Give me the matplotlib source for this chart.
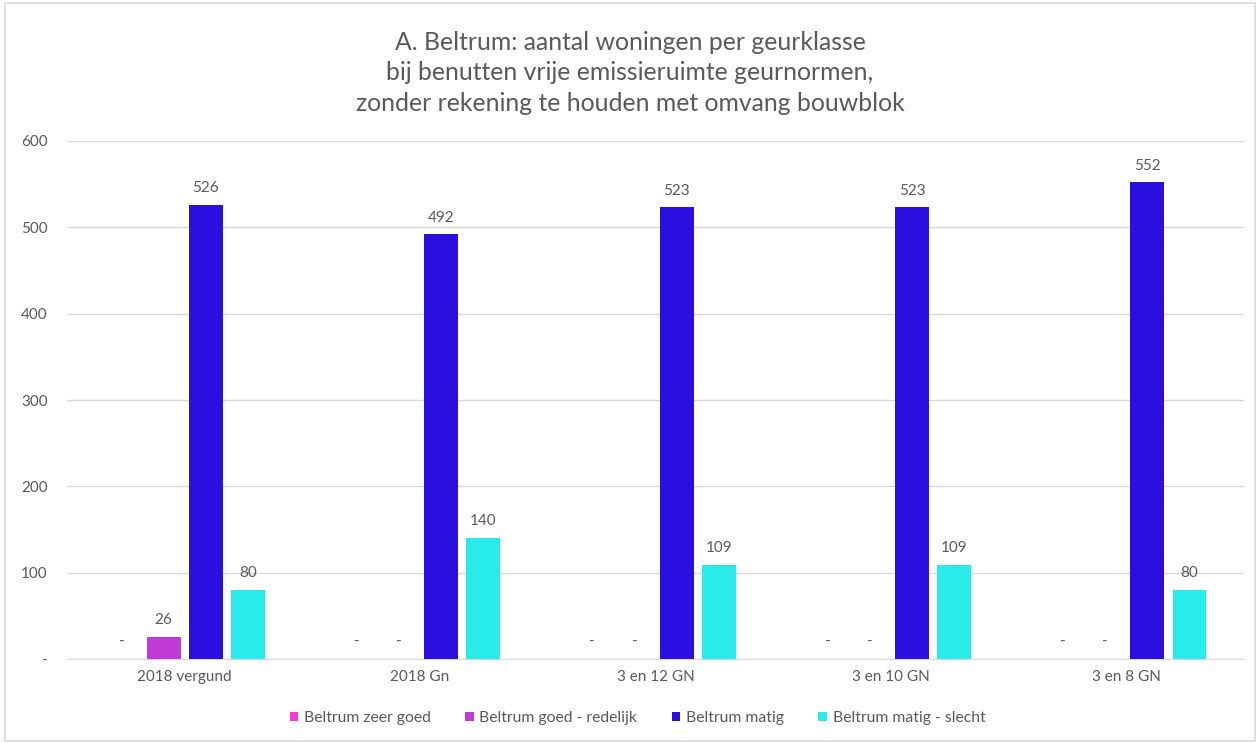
import matplotlib
matplotlib.use("Agg")
import matplotlib.pyplot as plt
import numpy as np
from matplotlib.patches import Rectangle

categories = ["2018 vergund", "2018 Gn", "3 en 12 GN", "3 en 10 GN", "3 en 8 GN"]
series_names = ["Beltrum zeer goed", "Beltrum goed - redelijk", "Beltrum matig", "Beltrum matig - slecht"]
zeer_goed = [0, 0, 0, 0, 0]
goed_redelijk = [26, 0, 0, 0, 0]
matig = [526, 492, 523, 523, 552]
matig_slecht = [80, 140, 109, 109, 80]
colors = ["#F538D8", "#C03AD8", "#2B0EE0", "#29ECEA"]

plt.rcParams['font.family'] = ['Lato', 'DejaVu Sans']
grey = "#595959"

fig = plt.figure(figsize=(12.6, 7.43), dpi=100)
ax = fig.add_axes([67/1260, 1 - 659/743, (1244 - 67)/1260, (659 - 141)/743])

x = np.arange(len(categories))
step = 0.179
width = 0.144
all_series = [zeer_goed, goed_redelijk, matig, matig_slecht]
for i, vals in enumerate(all_series):
    pos = x + (i - 1.5) * step
    ax.bar(pos, vals, width, color=colors[i], label=series_names[i], zorder=3)
    for p, v in zip(pos, vals):
        lbl = str(v) if v else "-"
        ax.annotate(lbl, (p, v), xytext=(0, 7), textcoords="offset points",
                    ha="center", va="bottom", fontsize=11, color=grey)

ax.set_xlim(-0.5, len(categories) - 0.5)
ax.set_ylim(0, 600)
ax.set_yticks(range(0, 601, 100))
ax.set_yticklabels(["-"] + [str(v) for v in range(100, 601, 100)])
ax.set_xticks(x)
ax.set_xticklabels(categories)
ax.tick_params(axis="both", length=0, labelsize=11, colors=grey)
ax.tick_params(axis="y", pad=14)
ax.tick_params(axis="x", pad=8)
ax.yaxis.grid(True, color="#D9D9D9", linewidth=1, zorder=0)
for s in ["top", "right", "left"]:
    ax.spines[s].set_visible(False)
ax.spines["bottom"].set_color("#D9D9D9")

fig.text(0.5, 1 - 73/743,
         "A. Beltrum: aantal woningen per geurklasse\n"
         "bij benutten vrije emissieruimte geurnormen,\n"
         "zonder rekening te houden met omvang bouwblok",
         ha="center", va="center", fontsize=17.8, color=grey, linespacing=1.38)

fig.legend(loc="center", bbox_to_anchor=(0.506, 1 - 718/743), ncol=4, frameon=False,
           fontsize=11.3, labelcolor=grey, handlelength=0.55, handleheight=0.55,
           handletextpad=0.35, columnspacing=2.2)

fig.patches.append(Rectangle((5/1260, 2/743), 1250/1260, 738/743, transform=fig.transFigure,
                             fill=False, edgecolor="#D9D9D9", linewidth=1.2))

fig.savefig("out.png", dpi=100)
